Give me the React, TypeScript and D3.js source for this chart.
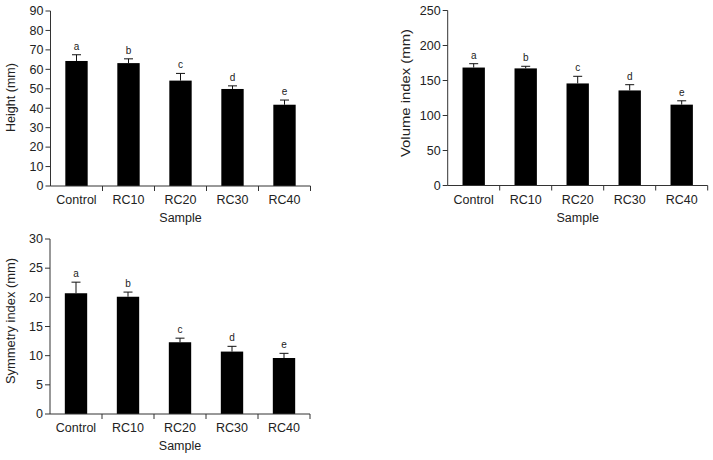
import * as d3 from "d3"
import React from "react"

const samples = ["Control", "RC10", "RC20", "RC30", "RC40"]
const letters = ["a", "b", "c", "d", "e"]

const heightMean = [64.3, 63.2, 54.2, 49.9, 41.8]
const heightErr = [3.2, 2.2, 3.7, 1.6, 2.4]
const heightTicks = [0, 10, 20, 30, 40, 50, 60, 70, 80, 90]

const volumeMean = [168.5, 167.3, 145.8, 135.8, 115.5]
const volumeErr = [5.5, 3.0, 10.2, 8.2, 5.5]
const volumeTicks = [0, 50, 100, 150, 200, 250]

const symMean = [20.7, 20.1, 12.3, 10.7, 9.6]
const symErr = [1.9, 0.8, 0.7, 0.9, 0.8]
const symTicks = [0, 5, 10, 15, 20, 25, 30]

const font = "'Liberation Sans', Arial, sans-serif"

const BarPanel = (props) => {
  const { x0, y0, yMax, ticks, means, errs, yLabel, labelX, labelY, labelLen } = props
  const w = 260
  const h = 175
  const xScale = d3.scaleBand().domain(samples).range([x0, x0 + w]).paddingInner(0.57).paddingOuter(0.285)
  const yScale = d3.scaleLinear().domain([0, yMax]).range([y0 + h, y0])
  const step = xScale.step()
  const bottom = yScale(0)
  return (
    <g>
      {samples.map((s, i) => {
        const bx = xScale(s)
        const cx = bx + xScale.bandwidth() / 2
        const top = yScale(means[i])
        const capY = yScale(means[i] + errs[i])
        return (
          <g key={s}>
            <rect x={bx} y={top} width={xScale.bandwidth()} height={bottom - top} fill="#000" />
            <line x1={cx} x2={cx} y1={top} y2={capY} stroke="#111" strokeWidth={1} />
            <line x1={cx - 4.5} x2={cx + 4.5} y1={capY} y2={capY} stroke="#111" strokeWidth={1} />
            <text x={cx} y={capY - 5} fontSize={10} textAnchor="middle" fill="#222">{letters[i]}</text>
            <text x={cx} y={bottom + 18} fontSize={12.5} textAnchor="middle" fill="#222">{s}</text>
            <line x1={x0 + step * (i + 1)} x2={x0 + step * (i + 1)} y1={bottom} y2={bottom + 5} stroke="#333" />
          </g>
        )
      })}
      {ticks.map(t => (
        <g key={t}>
          <line x1={x0 - 5} x2={x0} y1={yScale(t)} y2={yScale(t)} stroke="#333" />
          <text x={x0 - 7} y={yScale(t) + 4.3} fontSize={12.5} textAnchor="end" fill="#222">{t}</text>
        </g>
      ))}
      <line x1={x0} x2={x0} y1={y0} y2={bottom} stroke="#333" />
      <line x1={x0} x2={x0 + w} y1={bottom} y2={bottom} stroke="#333" />
      <text x={x0 + w / 2} y={bottom + 36} fontSize={12.5} textAnchor="middle" fill="#222">Sample</text>
      <text
        transform={`translate(${labelX},${labelY}) rotate(-90)`}
        fontSize={12.5}
        textAnchor="middle"
        fill="#222"
        textLength={labelLen}
        lengthAdjust="spacingAndGlyphs"
      >
        {yLabel}
      </text>
    </g>
  )
}

export default function App() {
  return (
    <svg
      width={713}
      height={460}
      style={{ position: "absolute", left: 0, top: 0, background: "#fff" }}
      fontFamily={font}
    >
      <BarPanel x0={50.5} y0={11} yMax={90} ticks={heightTicks} means={heightMean} errs={heightErr}
        yLabel="Height (mm)" labelX={15} labelY={97.5} labelLen={69} />
      <BarPanel x0={447.7} y0={10.5} yMax={250} ticks={volumeTicks} means={volumeMean} errs={volumeErr}
        yLabel="Volume index (mm)" labelX={410} labelY={93} labelLen={128} />
      <BarPanel x0={50} y0={239} yMax={30} ticks={symTicks} means={symMean} errs={symErr}
        yLabel="Symmetry index (mm)" labelX={15} labelY={321} labelLen={126} />
    </svg>
  )
}
